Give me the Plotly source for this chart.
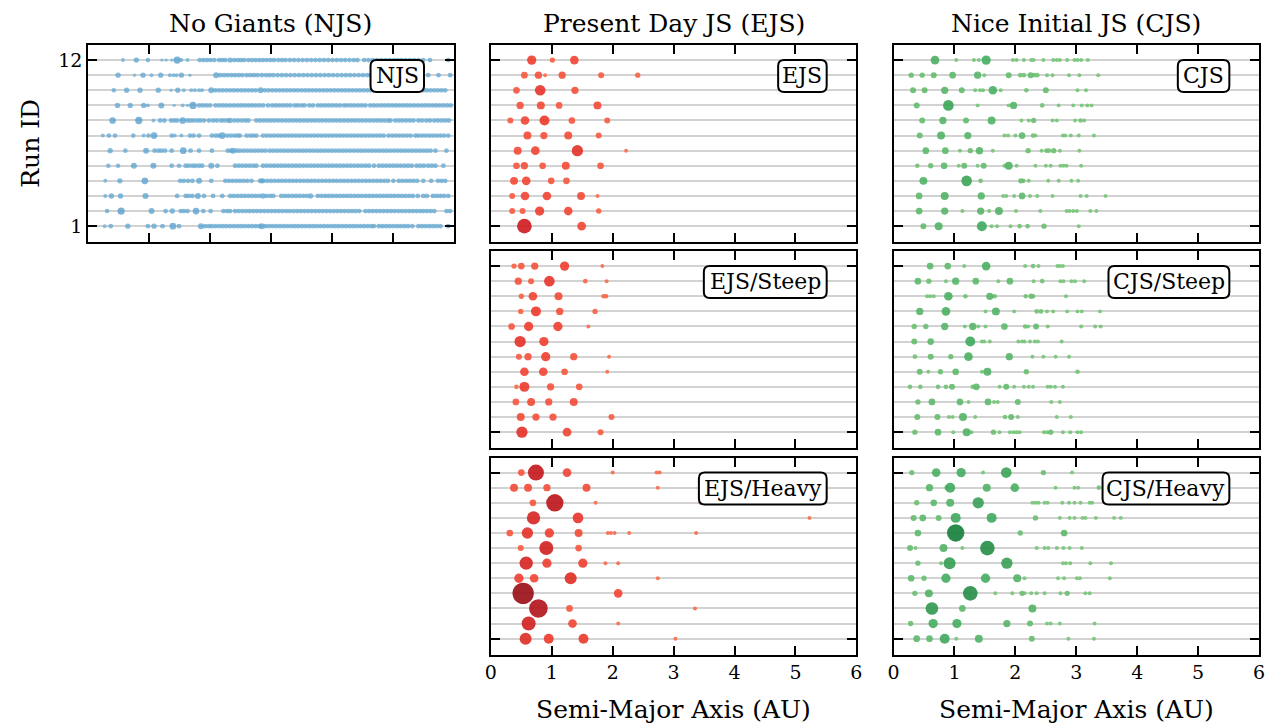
import numpy as np
import plotly.graph_objects as go
from plotly.colors import sequential

W, H = 1271, 723
SERIF = "DejaVu Serif"

RUNS = list(range(1, 13))
X_TICKS = [0, 1, 2, 3, 4, 5, 6]
Y_TICKS = [1, 12]
EMBRYO_MASS = 0.16

COL_TITLES = ["No Giants (NJS)", "Present Day JS (EJS)", "Nice Initial JS (CJS)"]
X_TITLE = "Semi-Major Axis (AU)"
Y_TITLE = "Run ID"

# ---------------- NJS (index 0 = run 1) ----------------
NJS_A = [
    [0.27, 0.37, 0.65, 1.08, 1.39, 1.85, 2.85],
    [0.31, 0.54, 1.04, 1.38, 1.77],
    [0.28, 0.38, 0.53, 0.94, 1.80, 2.87, 3.65],
    [0.28, 0.52, 0.93, 1.82, 2.85],
    [0.33, 0.49, 0.75, 1.07, 1.49, 2.02],
    [0.36, 0.61, 0.95, 1.56, 2.38],
    [0.24, 0.34, 0.44, 0.74, 0.91, 0.99, 1.08, 1.37, 1.42, 1.53, 2.20],
    [0.40, 0.83, 1.07, 1.55, 2.33],
    [0.48, 0.69, 0.91, 0.98, 1.20, 1.41, 1.55, 1.63, 1.72, 2.95, 3.39],
    [0.42, 0.63, 0.85, 1.15, 1.36, 1.47, 1.57, 1.69, 1.75, 1.82, 1.87, 2.02, 2.83],
    [0.49, 0.76, 0.90, 1.04, 1.19, 1.34, 1.40, 1.45, 1.53, 1.67, 2.10],
    [0.57, 0.79, 0.98, 1.21, 1.28, 1.37, 1.46, 1.53, 1.63, 2.33, 3.12],
]
NJS_M = [
    [0.11, 0.15, 0.20, 0.20, 0.31, 0.25, 0.25],
    [0.15, 0.37, 0.25, 0.20, 0.31],
    [0.11, 0.20, 0.20, 0.25, 0.25, 0.20, 0.20],
    [0.11, 0.20, 0.31, 0.25, 0.20],
    [0.15, 0.15, 0.25, 0.25, 0.15, 0.25],
    [0.20, 0.15, 0.25, 0.31, 0.25],
    [0.11, 0.15, 0.15, 0.15, 0.11, 0.15, 0.31, 0.15, 0.11, 0.11, 0.31],
    [0.31, 0.37, 0.11, 0.31, 0.20],
    [0.20, 0.20, 0.20, 0.11, 0.25, 0.08, 0.11, 0.08, 0.37, 0.15, 0.15],
    [0.15, 0.20, 0.20, 0.20, 0.08, 0.20, 0.11, 0.11, 0.11, 0.11, 0.11, 0.25, 0.25],
    [0.20, 0.08, 0.20, 0.11, 0.20, 0.11, 0.11, 0.11, 0.20, 0.08, 0.25],
    [0.11, 0.20, 0.15, 0.08, 0.08, 0.08, 0.37, 0.11, 0.11, 0.20, 0.15],
]
# remaining small embryos (all EMBRYO_MASS)
NJS_EMB = [
    [0.98, 1.22, 1.49, 1.92, 1.98, 2.03, 2.09, 2.15, 2.21, 2.27, 2.33, 2.39, 2.45, 2.51, 2.57, 2.63, 2.69, 2.75,
     2.81, 2.91, 2.97, 3.03, 3.09, 3.15, 3.21, 3.27, 3.33, 3.39, 3.45, 3.51, 3.57, 3.63, 3.69, 3.75, 3.81, 3.87,
     3.93, 3.99, 4.05, 4.11, 4.17, 4.23, 4.29, 4.35, 4.41, 4.47, 4.53, 4.59, 4.65, 4.69, 4.77, 4.83, 4.89, 4.95,
     5.01, 5.07, 5.13, 5.19, 5.25, 5.32, 5.42, 5.48, 5.54, 5.60, 5.66, 5.72, 5.78, 5.91],
    [1.27, 1.52, 1.57, 1.63, 1.89, 2.01, 2.22, 2.28, 2.33, 2.41, 2.47, 2.53, 2.59, 2.65, 2.71, 2.77, 2.83, 2.89,
     2.95, 3.01, 3.07, 3.13, 3.19, 3.25, 3.31, 3.37, 3.43, 3.49, 3.55, 3.61, 3.67, 3.73, 3.79, 3.85, 3.91, 3.97,
     4.03, 4.09, 4.15, 4.21, 4.27, 4.33, 4.39, 4.45, 4.55, 4.61, 4.67, 4.73, 4.79, 4.85, 4.91, 4.97, 5.03, 5.09,
     5.15, 5.21, 5.27, 5.33, 5.39, 5.45, 5.50, 5.56, 5.62, 5.68, 5.88, 5.94],
    [1.46, 1.60, 1.65, 1.71, 1.90, 2.05, 2.20, 2.33, 2.39, 2.45, 2.51, 2.57, 2.63, 2.69, 2.75, 2.81, 2.93, 2.99,
     3.04, 3.17, 3.23, 3.29, 3.35, 3.41, 3.47, 3.53, 3.59, 3.77, 3.83, 3.89, 3.95, 4.01, 4.07, 4.13, 4.19, 4.25,
     4.31, 4.37, 4.43, 4.49, 4.55, 4.61, 4.67, 4.73, 4.79, 4.85, 4.91, 4.97, 5.03, 5.09, 5.15, 5.21, 5.27, 5.33,
     5.41, 5.50, 5.56, 5.66, 5.72, 5.78, 5.84, 5.91],
    [1.51, 1.57, 1.64, 1.71, 2.02, 2.25, 2.31, 2.37, 2.43, 2.49, 2.55, 2.61, 2.68, 2.82, 2.88, 2.94, 3.00, 3.06,
     3.12, 3.18, 3.24, 3.30, 3.36, 3.42, 3.48, 3.54, 3.60, 3.66, 3.72, 3.78, 3.84, 3.90, 3.96, 4.02, 4.08, 4.14,
     4.20, 4.26, 4.32, 4.38, 4.44, 4.50, 4.56, 4.62, 4.68, 4.74, 4.80, 4.86, 4.92, 5.01, 5.10, 5.16, 5.22, 5.28,
     5.34, 5.40, 5.50, 5.63, 5.74, 5.80, 5.86],
    [1.37, 1.60, 1.65, 1.71, 1.76, 1.82, 1.87, 2.12, 2.41, 2.47, 2.53, 2.59, 2.65, 2.71, 2.76, 2.87, 2.93, 2.99,
     3.05, 3.11, 3.17, 3.23, 3.29, 3.35, 3.41, 3.47, 3.53, 3.59, 3.65, 3.71, 3.77, 3.83, 3.89, 3.95, 4.01, 4.07,
     4.13, 4.19, 4.25, 4.31, 4.37, 4.43, 4.49, 4.55, 4.61, 4.69, 4.77, 4.83, 4.89, 4.95, 5.01, 5.07, 5.13, 5.19,
     5.25, 5.31, 5.39, 5.45, 5.51, 5.58, 5.64, 5.70, 5.83],
    [1.09, 1.15, 1.20, 1.26, 1.37, 1.68, 1.82, 2.03, 2.29, 2.34, 2.44, 2.49, 2.55, 2.61, 2.67, 2.73, 2.79, 2.85,
     2.91, 2.98, 3.04, 3.10, 3.16, 3.22, 3.28, 3.34, 3.40, 3.46, 3.52, 3.58, 3.64, 3.70, 3.76, 3.82, 3.88, 3.94,
     4.00, 4.06, 4.12, 4.18, 4.24, 4.30, 4.36, 4.42, 4.48, 4.54, 4.60, 4.66, 4.72, 4.78, 4.84, 4.90, 4.96, 5.02,
     5.08, 5.14, 5.20, 5.26, 5.32, 5.38, 5.44, 5.50, 5.56, 5.62, 5.70, 5.88],
    [1.67, 1.73, 1.82, 2.03, 2.09, 2.14, 2.28, 2.34, 2.40, 2.45, 2.49, 2.60, 2.66, 2.71, 2.76, 2.87, 2.93, 2.99,
     3.05, 3.11, 3.17, 3.23, 3.29, 3.35, 3.41, 3.47, 3.53, 3.59, 3.65, 3.71, 3.77, 3.83, 3.89, 3.95, 4.01, 4.07,
     4.13, 4.19, 4.25, 4.31, 4.37, 4.43, 4.49, 4.55, 4.61, 4.67, 4.73, 4.79, 4.85, 4.93, 4.99, 5.05, 5.11, 5.17,
     5.23, 5.29, 5.37, 5.42, 5.48, 5.54, 5.60, 5.66, 5.72, 5.78, 5.84, 5.91],
    [1.18, 1.25, 1.36, 1.41, 1.46, 1.63, 1.68, 1.73, 1.79, 1.84, 1.90, 1.98, 2.05, 2.11, 2.18, 2.23, 2.29, 2.40,
     2.46, 2.52, 2.58, 2.63, 2.76, 2.82, 2.88, 2.94, 3.00, 3.06, 3.12, 3.18, 3.24, 3.30, 3.36, 3.42, 3.48, 3.54,
     3.60, 3.66, 3.72, 3.78, 3.84, 3.90, 3.96, 4.02, 4.08, 4.14, 4.20, 4.26, 4.32, 4.38, 4.44, 4.50, 4.56, 4.62,
     4.68, 4.74, 4.80, 4.86, 4.92, 4.96, 5.04, 5.10, 5.16, 5.22, 5.28, 5.34, 5.42, 5.48, 5.55, 5.61, 5.68, 5.74,
     5.80, 5.86, 5.92],
    [1.82, 1.88, 1.94, 2.00, 2.09, 2.15, 2.21, 2.27, 2.33, 2.39, 2.45, 2.51, 2.57, 2.63, 2.69, 2.75, 2.81, 2.87,
     3.02, 3.08, 3.14, 3.20, 3.26, 3.32, 3.44, 3.50, 3.55, 3.63, 3.69, 3.77, 3.83, 3.89, 3.95, 4.01, 4.07, 4.13,
     4.20, 4.25, 4.31, 4.37, 4.43, 4.49, 4.55, 4.63, 4.69, 4.75, 4.81, 4.87, 4.93, 4.99, 5.05, 5.11, 5.17, 5.23,
     5.29, 5.35, 5.41, 5.47, 5.53, 5.59, 5.65, 5.71, 5.77, 5.83, 5.89, 5.95],
    [2.09, 2.15, 2.21, 2.27, 2.33, 2.39, 2.45, 2.51, 2.57, 2.63, 2.69, 2.75, 2.90, 2.96, 3.02, 3.08, 3.14, 3.20,
     3.26, 3.32, 3.38, 3.44, 3.50, 3.56, 3.62, 3.68, 3.74, 3.80, 3.86, 3.92, 3.98, 4.04, 4.10, 4.16, 4.22, 4.28,
     4.34, 4.40, 4.46, 4.52, 4.58, 4.64, 4.70, 4.76, 4.82, 4.88, 4.94, 5.00, 5.06, 5.12, 5.18, 5.24, 5.30, 5.36,
     5.42, 5.50, 5.56, 5.62, 5.68, 5.74, 5.80, 5.86],
    [2.17, 2.23, 2.29, 2.35, 2.41, 2.47, 2.53, 2.60, 2.66, 2.72, 2.78, 2.85, 2.92, 2.98, 3.04, 3.11, 3.18, 3.25,
     3.32, 3.39, 3.46, 3.53, 3.60, 3.67, 3.74, 3.81, 3.88, 3.95, 4.02, 4.09, 4.16, 4.23, 4.30, 4.37, 4.44, 4.51,
     4.58, 4.64, 4.78, 4.85, 4.92, 5.00, 5.10, 5.20, 5.30, 5.40, 5.58, 5.75, 5.94],
    [1.83, 1.89, 1.95, 2.01, 2.07, 2.15, 2.20, 2.25, 2.40, 2.46, 2.51, 2.56, 2.63, 2.69, 2.75, 2.81, 2.87, 2.93,
     2.99, 3.05, 3.18, 3.24, 3.31, 3.38, 3.45, 3.52, 3.59, 3.66, 3.73, 3.80, 3.87, 3.94, 4.01, 4.08, 4.15, 4.22,
     4.29, 4.36, 4.42, 4.53, 4.60, 4.67, 4.74, 4.81, 4.88, 4.95, 5.02, 5.08, 5.14, 5.21, 5.28, 5.35, 5.42, 5.50,
     5.61, 5.91],
]

# ---------------- EJS ----------------
EJS_A = [
    [0.55, 1.49],
    [0.35, 0.52, 0.80, 1.27, 1.77],
    [0.35, 0.56, 0.92, 1.48, 1.75],
    [0.38, 0.58, 0.99, 1.24],
    [0.42, 0.55, 0.85, 1.23, 1.80],
    [0.44, 0.73, 1.42, 2.22],
    [0.60, 0.87, 1.27, 1.77],
    [0.32, 0.56, 0.88, 1.33, 1.91],
    [0.48, 0.82, 1.12, 1.75],
    [0.42, 0.81, 1.38],
    [0.55, 0.78, 0.89, 1.17, 1.81, 2.41],
    [0.67, 1.01, 1.37],
]
EJS_M = [
    [1.49, 0.52],
    [0.25, 0.25, 0.60, 0.52, 0.20],
    [0.25, 0.52, 0.52, 0.44, 0.11],
    [0.44, 0.52, 0.31, 0.31],
    [0.31, 0.37, 0.31, 0.44, 0.31],
    [0.44, 0.52, 0.89, 0.11],
    [0.44, 0.37, 0.44, 0.25],
    [0.25, 0.52, 0.69, 0.31, 0.25],
    [0.37, 0.44, 0.31, 0.44],
    [0.31, 0.79, 0.37],
    [0.31, 0.37, 0.11, 0.37, 0.25, 0.20],
    [0.60, 0.20, 0.52],
]

EJS_STEEP_A = [
    [0.51, 1.25, 1.80],
    [0.49, 0.74, 1.02, 1.98],
    [0.41, 0.66, 0.95, 1.36],
    [0.42, 0.55, 0.98, 1.45],
    [0.55, 0.86, 1.21, 1.91],
    [0.46, 0.61, 0.90, 1.36, 1.94],
    [0.48, 0.87],
    [0.34, 0.62, 1.10, 1.60],
    [0.49, 0.74, 1.13, 1.71],
    [0.50, 0.69, 1.11, 1.85, 1.89],
    [0.45, 0.66, 0.96, 1.55, 1.90],
    [0.38, 0.50, 0.72, 1.21, 1.83],
]
EJS_STEEP_M = [
    [0.89, 0.52, 0.25],
    [0.44, 0.37, 0.37, 0.25],
    [0.31, 0.44, 0.37, 0.44],
    [0.15, 0.69, 0.37, 0.31],
    [0.52, 0.52, 0.31, 0.11],
    [0.25, 0.37, 0.60, 0.37, 0.11],
    [0.89, 0.60],
    [0.31, 0.60, 0.60, 0.11],
    [0.20, 0.69, 0.37, 0.20],
    [0.20, 0.52, 0.44, 0.15, 0.15],
    [0.37, 0.25, 0.79, 0.15, 0.11],
    [0.20, 0.31, 0.37, 0.60, 0.11],
]

EJS_HEAVY_A = [
    [0.57, 0.95, 1.52, 3.03],
    [0.62, 1.34, 2.09],
    [0.78, 1.29, 3.35],
    [0.53, 2.09],
    [0.46, 0.71, 1.31, 2.74],
    [0.58, 0.92, 1.51, 1.88, 2.09],
    [0.49, 0.91, 1.44],
    [0.31, 0.60, 0.96, 1.44, 1.92, 1.97, 2.03, 2.27, 3.37],
    [0.70, 1.43, 5.23],
    [0.69, 1.05, 1.72, 3.44],
    [0.38, 0.61, 0.92, 1.57, 2.74],
    [0.50, 0.74, 1.25, 2.00, 2.72, 2.77],
]
EJS_HEAVY_M = [
    [1.00, 0.69, 0.69, 0.11],
    [1.36, 0.52, 0.11],
    [2.42, 0.31, 0.11],
    [3.16, 0.52],
    [0.60, 0.52, 1.00, 0.11],
    [1.23, 0.60, 0.60, 0.11, 0.11],
    [0.25, 1.36, 0.31],
    [0.31, 0.89, 0.60, 0.44, 0.11, 0.11, 0.11, 0.11, 0.11],
    [1.23, 0.79, 0.11],
    [0.31, 2.09, 0.11, 0.11],
    [0.44, 0.44, 0.37, 0.44, 0.11],
    [0.31, 1.78, 0.52, 0.11, 0.11, 0.11],
]

# ---------------- CJS ----------------
CJS_A = [
    [0.49, 0.74, 1.45, 1.61, 1.70, 1.92, 2.07, 2.20, 2.47, 3.04],
    [0.42, 0.84, 1.13, 1.43, 1.57, 1.73, 2.01, 2.41, 2.84, 2.89, 2.95, 3.01, 3.23, 3.33],
    [0.42, 0.84, 1.44, 1.80, 1.85, 1.98, 2.11, 2.24, 2.36, 2.61, 3.07, 3.17, 3.48],
    [0.49, 1.20, 1.43, 2.09, 2.13, 2.22, 2.54, 2.71, 2.92, 3.03],
    [0.39, 0.61, 0.83, 1.07, 1.16, 1.38, 1.48, 1.82, 1.89, 2.02, 2.33, 2.50, 2.58, 2.74, 2.79, 2.84, 3.08],
    [0.53, 0.85, 1.09, 1.26, 1.41, 1.63, 2.21, 2.43, 2.51, 2.55, 2.63, 2.73, 3.05],
    [0.43, 0.78, 1.22, 1.82, 1.88, 2.00, 2.11, 2.29, 2.33, 2.78, 2.82, 2.91, 3.04, 3.29],
    [0.47, 0.81, 1.19, 1.61, 2.10, 2.22, 2.30, 2.61, 2.68, 2.98, 3.07, 3.13],
    [0.38, 0.90, 1.38, 1.89, 1.97, 2.44, 2.71, 2.95, 3.09, 3.18, 3.25],
    [0.32, 0.51, 0.84, 1.12, 1.34, 1.42, 1.47, 1.63, 1.76, 2.18, 2.50, 3.02, 3.16],
    [0.29, 0.47, 0.66, 0.97, 1.38, 1.49, 1.89, 2.08, 2.14, 2.25, 2.31, 2.36, 2.52, 2.61, 2.88, 3.05, 3.36],
    [0.68, 1.03, 1.32, 1.40, 1.52, 1.96, 2.02, 2.14, 2.26, 2.30, 2.46, 2.62, 2.68, 2.73, 2.85, 2.97, 3.02, 3.08, 3.19],
]
CJS_M = [
    [0.25, 0.44, 0.69, 0.11, 0.11, 0.11, 0.15, 0.15, 0.20, 0.11],
    [0.31, 0.37, 0.11, 0.37, 0.11, 0.44, 0.11, 0.11, 0.11, 0.11, 0.11, 0.11, 0.11, 0.11],
    [0.31, 0.44, 0.37, 0.11, 0.11, 0.11, 0.31, 0.11, 0.11, 0.11, 0.11, 0.11, 0.11],
    [0.44, 0.79, 0.15, 0.20, 0.15, 0.11, 0.11, 0.11, 0.11, 0.11],
    [0.15, 0.20, 0.31, 0.11, 0.25, 0.11, 0.25, 0.11, 0.44, 0.11, 0.11, 0.11, 0.11, 0.11, 0.11, 0.11, 0.11],
    [0.31, 0.31, 0.11, 0.20, 0.37, 0.11, 0.20, 0.11, 0.15, 0.15, 0.20, 0.11, 0.11],
    [0.25, 0.44, 0.37, 0.11, 0.11, 0.11, 0.31, 0.15, 0.11, 0.11, 0.11, 0.11, 0.11, 0.11],
    [0.25, 0.37, 0.25, 0.44, 0.11, 0.11, 0.20, 0.11, 0.11, 0.11, 0.15, 0.11],
    [0.25, 0.79, 0.11, 0.11, 0.37, 0.15, 0.11, 0.11, 0.11, 0.11, 0.11],
    [0.25, 0.25, 0.37, 0.25, 0.11, 0.11, 0.11, 0.52, 0.11, 0.15, 0.25, 0.11, 0.11],
    [0.20, 0.20, 0.25, 0.31, 0.37, 0.11, 0.25, 0.15, 0.15, 0.25, 0.15, 0.15, 0.11, 0.11, 0.11, 0.11, 0.11],
    [0.52, 0.11, 0.11, 0.11, 0.60, 0.11, 0.11, 0.11, 0.11, 0.11, 0.11, 0.11, 0.11, 0.11, 0.11, 0.11, 0.11, 0.11, 0.11],
]

CJS_STEEP_A = [
    [0.35, 0.73, 0.98, 1.20, 1.28, 1.64, 1.74, 1.91, 1.97, 2.02, 2.07, 2.47, 2.52, 2.58, 2.78, 2.90, 3.02, 3.08],
    [0.39, 0.72, 0.91, 0.97, 1.14, 1.34, 1.83, 1.93, 2.04, 2.68, 2.91],
    [0.40, 0.63, 1.09, 1.23, 1.55, 1.65, 1.71, 2.04, 2.59, 2.73],
    [0.27, 0.44, 0.73, 0.86, 0.96, 1.30, 1.36, 1.74, 1.85, 1.98, 2.14, 2.22, 2.29, 2.53, 2.58, 2.65, 2.78],
    [0.43, 0.57, 0.77, 1.02, 1.45, 1.54, 2.18, 3.02],
    [0.35, 0.61, 0.94, 1.23, 1.90, 2.28, 2.46, 2.66, 2.88],
    [0.34, 0.61, 1.26, 1.45, 1.49, 1.58, 2.05, 2.11, 2.15, 2.24, 2.32, 2.37, 2.76],
    [0.34, 0.53, 0.84, 1.17, 1.30, 1.39, 1.51, 1.82, 2.16, 2.21, 2.34, 2.53, 3.08, 3.31, 3.40],
    [0.43, 0.86, 1.51, 1.68, 1.98, 2.35, 2.42, 2.52, 2.62, 2.85, 3.02, 3.09, 3.39],
    [0.55, 0.60, 0.66, 0.90, 1.18, 1.58, 1.66, 2.17, 2.26, 2.29, 2.83],
    [0.40, 0.58, 0.86, 1.02, 1.35, 1.72, 1.91, 2.30, 2.44, 2.74, 2.79, 2.92, 2.98, 3.13],
    [0.60, 0.89, 1.16, 1.52, 2.16, 2.29, 2.38, 2.69, 2.73, 2.78],
]
CJS_STEEP_M = [
    [0.20, 0.31, 0.11, 0.44, 0.11, 0.20, 0.11, 0.11, 0.11, 0.11, 0.11, 0.11, 0.11, 0.20, 0.11, 0.11, 0.11, 0.11],
    [0.25, 0.25, 0.11, 0.11, 0.44, 0.11, 0.15, 0.25, 0.11, 0.11, 0.11],
    [0.20, 0.31, 0.31, 0.11, 0.31, 0.11, 0.11, 0.25, 0.11, 0.11],
    [0.15, 0.15, 0.15, 0.15, 0.25, 0.15, 0.31, 0.11, 0.25, 0.11, 0.11, 0.11, 0.11, 0.11, 0.11, 0.11, 0.11],
    [0.25, 0.11, 0.20, 0.31, 0.11, 0.44, 0.20, 0.15],
    [0.15, 0.25, 0.20, 0.52, 0.37, 0.11, 0.11, 0.11, 0.11],
    [0.25, 0.31, 0.69, 0.11, 0.11, 0.11, 0.11, 0.11, 0.11, 0.11, 0.11, 0.11, 0.11],
    [0.20, 0.20, 0.37, 0.11, 0.37, 0.11, 0.11, 0.31, 0.15, 0.11, 0.25, 0.11, 0.11, 0.11, 0.11],
    [0.37, 0.52, 0.11, 0.44, 0.11, 0.15, 0.15, 0.11, 0.11, 0.11, 0.11, 0.11, 0.11],
    [0.11, 0.11, 0.11, 0.52, 0.15, 0.37, 0.15, 0.15, 0.20, 0.15, 0.11],
    [0.31, 0.20, 0.11, 0.37, 0.31, 0.11, 0.31, 0.11, 0.15, 0.11, 0.11, 0.11, 0.11, 0.11],
    [0.31, 0.31, 0.11, 0.52, 0.11, 0.15, 0.11, 0.11, 0.11, 0.11],
]

CJS_HEAVY_A = [
    [0.38, 0.59, 0.84, 1.03, 1.40, 2.27, 2.87, 3.29],
    [0.28, 0.65, 1.04, 1.86, 2.24, 2.52, 2.58, 2.73, 3.30],
    [0.63, 1.13, 2.28],
    [0.35, 0.58, 1.26, 1.67, 1.95, 2.11, 2.15, 2.26, 2.35, 2.48, 2.74, 2.85, 3.15, 3.22],
    [0.29, 0.50, 0.86, 1.51, 2.03, 2.15, 2.70, 2.80, 3.01, 3.06, 3.55],
    [0.40, 0.78, 0.92, 1.86, 2.78, 2.83, 2.90, 3.23, 3.57],
    [0.27, 0.36, 0.82, 1.13, 1.54, 2.35, 2.48, 2.54, 2.68, 2.79, 2.89, 3.09],
    [0.40, 1.02, 2.08, 2.80],
    [0.33, 0.48, 0.74, 1.02, 1.61, 2.33, 2.73, 2.89, 2.97, 3.10, 3.15, 3.32, 3.62, 3.73],
    [0.38, 0.66, 0.93, 1.39, 2.28, 2.33, 2.38, 2.48, 2.53, 2.77, 2.88, 2.97, 3.07, 3.22, 3.26],
    [0.59, 0.87, 0.93, 1.53, 1.99, 2.66, 2.97, 3.03, 3.37],
    [0.30, 0.70, 1.11, 1.47, 1.85, 2.46, 2.93],
]
CJS_HEAVY_M = [
    [0.31, 0.31, 0.69, 0.11, 0.44, 0.25, 0.11, 0.11],
    [0.20, 0.60, 0.60, 0.37, 0.25, 0.11, 0.11, 0.11, 0.11],
    [1.11, 0.31, 0.44],
    [0.20, 0.44, 1.49, 0.11, 0.11, 0.20, 0.11, 0.11, 0.11, 0.11, 0.11, 0.20, 0.11, 0.11],
    [0.31, 0.20, 0.60, 0.60, 0.44, 0.11, 0.11, 0.11, 0.11, 0.11, 0.11],
    [0.20, 0.11, 1.00, 0.89, 0.11, 0.11, 0.11, 0.11, 0.11],
    [0.25, 0.11, 0.44, 0.11, 1.49, 0.11, 0.11, 0.11, 0.11, 0.11, 0.11, 0.11],
    [0.31, 2.09, 0.20, 0.31],
    [0.25, 0.31, 0.25, 0.69, 0.69, 0.20, 0.11, 0.11, 0.11, 0.11, 0.11, 0.11, 0.11, 0.11],
    [0.20, 0.31, 0.44, 0.89, 0.11, 0.11, 0.11, 0.11, 0.11, 0.11, 0.11, 0.11, 0.11, 0.11, 0.11],
    [0.37, 0.15, 0.69, 0.44, 0.52, 0.11, 0.11, 0.11, 0.15],
    [0.20, 0.52, 0.60, 0.11, 0.79, 0.20, 0.11],
]

# ---------------- styling ----------------
SIZE_K = 12.0          # marker diameter (px) per sqrt(mass)
T0, T1 = 0.40, 0.28    # colour position = T0 + T1*sqrt(mass)


def cscale(seq):
    n = len(seq)
    return [[i / (n - 1), c] for i, c in enumerate(seq)]


BLUES = cscale(sequential.Blues)
REDS = cscale(sequential.Reds)
GREENS = cscale(sequential.Greens)

# panel frames in pixels: (left, right, top, bottom)
COLS_PX = [(83, 452), (489.5, 858.5), (896, 1265)]
ROWS_PX = [(45, 242), (251, 448), (457.5, 654.5)]
LBL_W = {"NJS": 54, "EJS": 49, "CJS": 52, "EJS/Steep": 124, "CJS/Steep": 122,
         "EJS/Heavy": 129, "CJS/Heavy": 128}

PANELS = [
    # label, col, row, A, M, embryo list, colorscale, opacity
    ("NJS", 0, 0, NJS_A, NJS_M, NJS_EMB, BLUES, 0.78),
    ("EJS", 1, 0, EJS_A, EJS_M, None, REDS, 0.9),
    ("EJS/Steep", 1, 1, EJS_STEEP_A, EJS_STEEP_M, None, REDS, 0.9),
    ("EJS/Heavy", 1, 2, EJS_HEAVY_A, EJS_HEAVY_M, None, REDS, 0.9),
    ("CJS", 2, 0, CJS_A, CJS_M, None, GREENS, 0.9),
    ("CJS/Steep", 2, 1, CJS_STEEP_A, CJS_STEEP_M, None, GREENS, 0.9),
    ("CJS/Heavy", 2, 2, CJS_HEAVY_A, CJS_HEAVY_M, None, GREENS, 0.9),
]

fig = go.Figure()
layout = dict(
    width=W, height=H, margin=dict(l=0, r=0, t=0, b=0),
    paper_bgcolor="white", plot_bgcolor="white", showlegend=False,
    font=dict(family=SERIF, color="black"),
)
shapes, annotations = [], []


def px_x(x):
    return x / W


def px_y(y):
    return 1 - y / H


def rounded_path(x0, y0, x1, y1, r):
    X = lambda v: f"{px_x(v):.5f}"
    Y = lambda v: f"{px_y(v):.5f}"
    return (f"M {X(x0 + r)},{Y(y0)} L {X(x1 - r)},{Y(y0)} Q {X(x1)},{Y(y0)} {X(x1)},{Y(y0 + r)} "
            f"L {X(x1)},{Y(y1 - r)} Q {X(x1)},{Y(y1)} {X(x1 - r)},{Y(y1)} "
            f"L {X(x0 + r)},{Y(y1)} Q {X(x0)},{Y(y1)} {X(x0)},{Y(y1 - r)} "
            f"L {X(x0)},{Y(y0 + r)} Q {X(x0)},{Y(y0)} {X(x0 + r)},{Y(y0)} Z")


for k, (label, col, row, A, M, EMB, cs, op) in enumerate(PANELS):
    n = "" if k == 0 else str(k + 1)
    xl, xr = COLS_PX[col]
    yt, yb = ROWS_PX[row]
    bottom = (row == 2) and col > 0
    layout["xaxis" + n] = dict(
        domain=[px_x(xl), px_x(xr)], range=[0, 6], anchor="y" + n,
        showline=True, mirror="ticks", linecolor="black", linewidth=2,
        ticks="inside", ticklen=9, tickwidth=1.5, tickcolor="black",
        tickmode="array", tickvals=X_TICKS, showticklabels=bottom,
        tickfont=dict(family=SERIF, size=19, color="black"),
        showgrid=False, zeroline=False,
    )
    layout["yaxis" + n] = dict(
        domain=[px_y(yb), px_y(yt)], range=[-0.05, 13], anchor="x" + n,
        showline=True, mirror="ticks", linecolor="black", linewidth=2,
        ticks="inside", ticklen=9, tickwidth=1.5, tickcolor="black",
        tickmode="array", tickvals=Y_TICKS, showticklabels=(col == 0),
        tickfont=dict(family=SERIF, size=19, color="black"),
        showgrid=False, zeroline=False,
        minor=dict(tickmode="array", tickvals=RUNS, showgrid=True,
                   gridcolor="#d2d2d2", gridwidth=1.6, ticks=""),
    )

    xs, ys, ms = [], [], []
    if EMB is not None:
        for i, run in enumerate(RUNS):
            xs += EMB[i]
            ys += [run] * len(EMB[i])
            ms += [EMBRYO_MASS] * len(EMB[i])
    for i, run in enumerate(RUNS):
        xs += A[i]
        ys += [run] * len(A[i])
        ms += M[i]
    ms = np.array(ms)
    order = np.argsort(ms, kind="stable")
    xs = np.array(xs)[order]
    ys = np.array(ys)[order]
    ms = ms[order]
    fig.add_trace(go.Scatter(
        x=xs, y=ys, mode="markers", xaxis="x" + n, yaxis="y" + n,
        marker=dict(size=SIZE_K * np.sqrt(ms), color=T0 + T1 * np.sqrt(ms),
                    colorscale=cs, cmin=0, cmax=1, opacity=op,
                    line=dict(width=0)),
        hoverinfo="skip",
    ))

    # label box
    bw = LBL_W[label]
    bx1 = xr - 30
    bx0 = bx1 - bw
    by0 = yt + 15
    by1 = by0 + 32
    shapes.append(dict(type="path", xref="paper", yref="paper",
                       path=rounded_path(bx0, by0, bx1, by1, 6),
                       fillcolor="white", line=dict(color="black", width=2), layer="above"))
    annotations.append(dict(text=label, xref="paper", yref="paper",
                            x=px_x((bx0 + bx1) / 2), y=px_y((by0 + by1) / 2),
                            xanchor="center", yanchor="middle", showarrow=False,
                            font=dict(family=SERIF, size=22, color="black")))

# column titles
for (xl, xr), t in zip(COLS_PX, COL_TITLES):
    annotations.append(dict(text=t, xref="paper", yref="paper", x=px_x((xl + xr) / 2), y=px_y(24),
                            xanchor="center", yanchor="middle", showarrow=False,
                            font=dict(family=SERIF, size=25, color="black")))
# x titles
for (xl, xr) in COLS_PX[1:]:
    annotations.append(dict(text=X_TITLE, xref="paper", yref="paper", x=px_x((xl + xr) / 2), y=px_y(709),
                            xanchor="center", yanchor="middle", showarrow=False,
                            font=dict(family=SERIF, size=25, color="black")))
# y title
annotations.append(dict(text=Y_TITLE, xref="paper", yref="paper", x=px_x(25), y=px_y(143),
                        xanchor="center", yanchor="middle", showarrow=False, textangle=-90,
                        font=dict(family=SERIF, size=25, color="black")))

layout["shapes"] = shapes
layout["annotations"] = annotations
fig.update_layout(**layout)
fig.write_html("out.html", config={"displayModeBar": False},
               post_script="document.body.style.margin='0px';document.body.style.overflow='hidden';")
